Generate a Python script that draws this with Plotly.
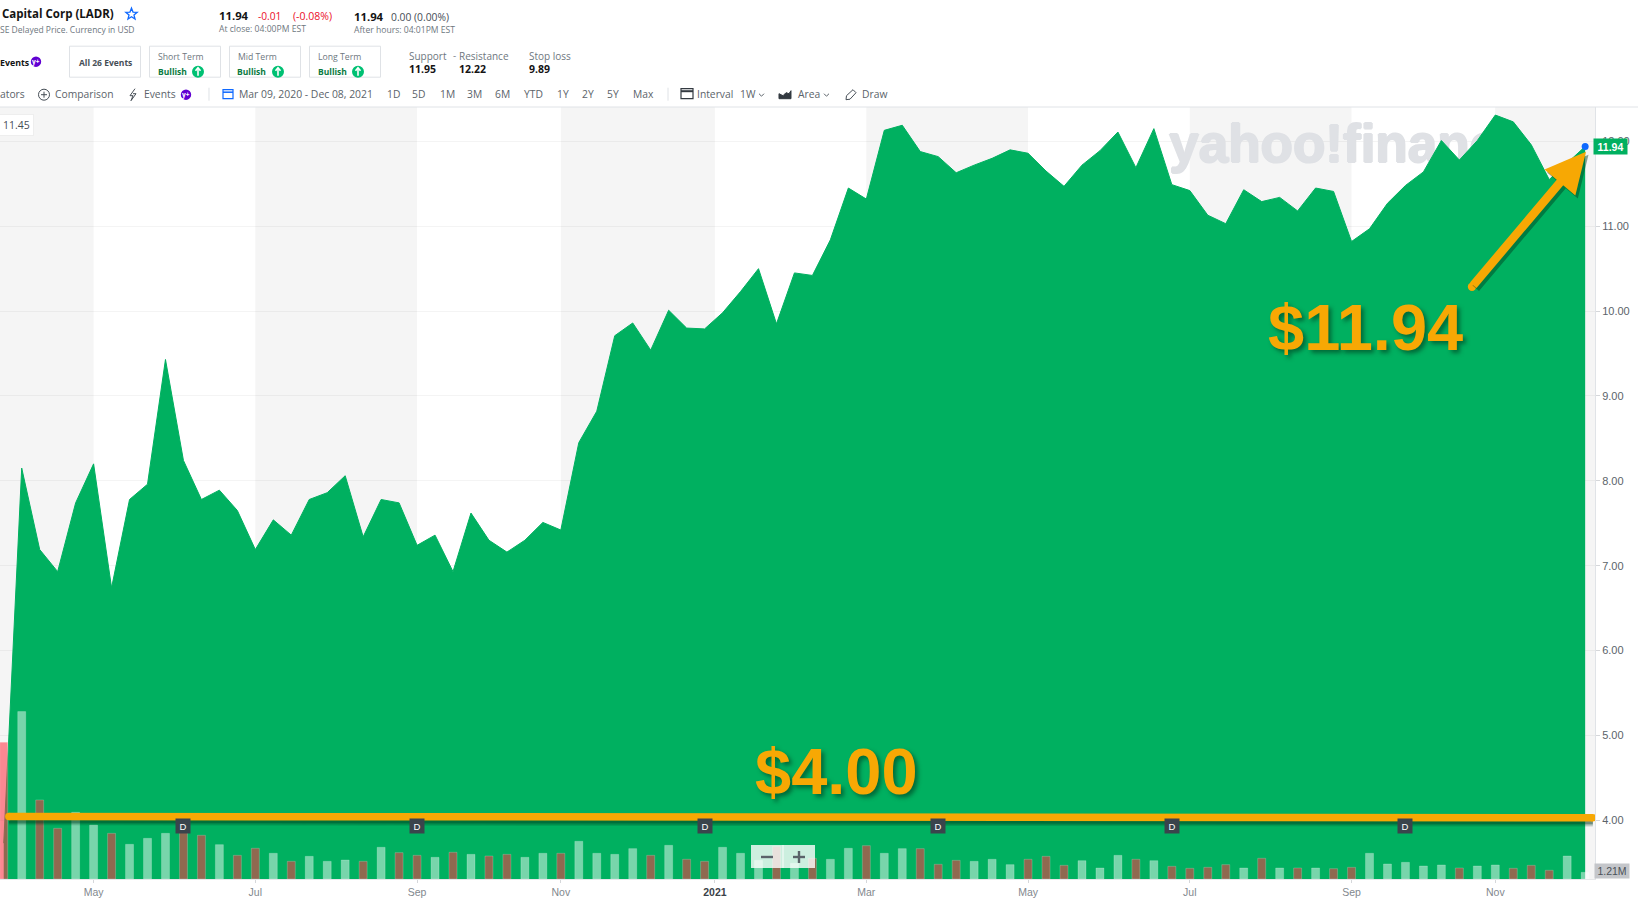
import math
import pandas as pd
import plotly.graph_objects as go

# ---------- data ----------
weeks = pd.date_range("2020-03-30", periods=89, freq="7D")
price = [3.73, 8.15, 7.19, 6.93, 7.74, 8.20, 6.74, 7.78, 7.96, 9.43,
         8.24, 7.78, 7.89, 7.65, 7.19, 7.54, 7.36, 7.78, 7.86, 8.06,
         7.34, 7.78, 7.74, 7.24, 7.36, 6.93, 7.62, 7.30, 7.16, 7.30,
         7.51, 7.42, 8.45, 8.82, 9.71, 9.86, 9.54, 10.01, 9.80, 9.79,
         9.98, 10.23, 10.50, 9.85, 10.45, 10.42, 10.84, 11.45, 11.32, 12.13,
         12.19, 11.88, 11.82, 11.63, 11.72, 11.80, 11.90, 11.86, 11.65, 11.47,
         11.72, 11.89, 12.11, 11.69, 12.15, 11.49, 11.42, 11.13, 11.03, 11.43,
         11.29, 11.34, 11.18, 11.45, 11.41, 10.82, 10.97, 11.27, 11.48, 11.64,
         12.01, 11.78, 12.01, 12.31, 12.23, 11.96, 11.55, 11.74, 11.94]
volume_m = [24.85, 30.42, 14.36, 9.21, 12.12, 9.82, 8.30, 6.30, 7.39, 8.30,
            8.91, 7.94, 6.24, 4.30, 5.58, 4.67, 3.21, 4.12, 3.21, 3.45,
            3.21, 5.76, 4.79, 4.30, 3.94, 4.85, 4.48, 4.18, 4.48, 3.94,
            4.67, 4.67, 6.85, 4.67, 4.48, 5.52, 4.30, 6.12, 3.58, 3.21,
            5.76, 4.67, 3.39, 5.94, 2.85, 3.76, 3.58, 5.58, 6.06, 4.67,
            5.52, 5.52, 2.67, 3.39, 3.21, 3.58, 2.61, 3.58, 4.12, 2.48,
            3.33, 2.00, 4.30, 3.58, 3.33, 2.30, 1.94, 2.12, 2.61, 2.00,
            3.76, 2.00, 2.00, 2.00, 1.88, 2.12, 4.67, 2.73, 3.03, 2.36,
            2.55, 2.00, 2.36, 2.55, 1.94, 2.48, 1.58, 4.18, 1.21]
volume_dir = [
    "d","u","d","d","u","u","d","u","u","u","d","d","u","d","d","u","d","u","u","u",
    "d","u","d","d","u","d","u","d","d","u","u","d","u","u","u","u","d","u","d","d",
    "u","u","u","d","u","d","u","u","d","u","u","d","d","d","u","u","u","d","d","d",
    "u","u","u","d","u","d","d","d","d","u","d","u","d","u","d","d","u","u","u","u",
    "u","d","u","u","d","d","d","u","u"]
tick_dates = ["2020-05-04", "2020-07-06", "2020-09-07", "2020-11-02", "2021-01-01",
              "2021-03-01", "2021-05-03", "2021-07-05", "2021-09-06", "2021-11-01"]
tick_labels = ["May", "Jul", "Sep", "Nov", '<span style="color:#3b4249"><b>2021</b></span>',
               "Mar", "May", "Jul", "Sep", "Nov"]
price_ticks = [4, 5, 6, 7, 8, 9, 10, 11, 12]
dividend_weeks = [10, 23, 39, 52, 65, 78]

# ---------- page geometry (px) ----------
W, H = 1638, 904
L, T, R, B = 0, 107.3, 1595, 879
X_RANGE = ["2020-03-28 13:00", "2021-12-09 20:00"]
Y_RANGE = [3.308, 12.405]
GREEN = "#00B060"
ORANGE = "#F7A804"
GREY = "#5b636a"

def px(x):
    return (x - L) / (R - L)

def py(y):
    return 1 - (y - T) / (B - T)

ann, shp = [], []

def text(s, x, y, size=10.3, color=GREY, bold=False, anchor="left", family="Open Sans", **kw):
    ann.append(dict(text=s, x=px(x), y=py(y), xref="paper", yref="paper", showarrow=False,
                    xanchor=anchor, yanchor="middle", borderpad=0,
                    font=dict(family=family, size=size, color=color,
                              weight=700 if bold else 400), **kw))

def rect(x0, y0, x1, y1, fill="rgba(0,0,0,0)", line="#dfe2e6", lw=1, layer="above"):
    shp.append(dict(type="rect", xref="paper", yref="paper", x0=px(x0), x1=px(x1),
                    y0=py(y0), y1=py(y1), fillcolor=fill,
                    line=dict(color=line, width=lw), layer=layer))

def circle(cx, cy, r, fill, line="rgba(0,0,0,0)", lw=0):
    shp.append(dict(type="circle", xref="paper", yref="paper", x0=px(cx - r), x1=px(cx + r),
                    y0=py(cy - r), y1=py(cy + r), fillcolor=fill,
                    line=dict(color=line, width=lw), layer="above"))

def path(points, color=GREY, lw=1, fill=None, close=False):
    d = "M " + " L ".join(f"{px(a):.5f},{py(b):.5f}" for a, b in points) + (" Z" if close else "")
    shp.append(dict(type="path", xref="paper", yref="paper", path=d, layer="above",
                    fillcolor=fill or "rgba(0,0,0,0)", line=dict(color=color, width=lw)))

def yplus(cx, cy):
    circle(cx, cy, 5.2, "#6001d2")
    text("y+", cx, cy, size=6.5, color="white", bold=True, anchor="center")

# ---------- header ----------
text("Capital Corp (LADR)", 1, 14, size=11.5, color="#141414", bold=True)
star = []
for k in range(10):
    r = 6 if k % 2 == 0 else 2.6
    ang = -math.pi / 2 + k * math.pi / 5
    star.append((131.5 + r * math.cos(ang), 14.5 + r * math.sin(ang)))
path(star, color="#0f69ff", lw=1.3, close=True)
text("SE Delayed Price. Currency in USD", -1, 30, size=8.5, color="#6e7780")
text("11.94", 218, 16, size=11.3, color="#141414", bold=True)
text("-0.01", 257, 16, size=10.2, color="#eb0f29")
text("(-0.08%)", 292, 16, size=10.5, color="#eb0f29")
text("At close: 04:00PM EST", 218, 29, size=8.6, color="#6e7780")
text("11.94", 353, 17, size=11.3, color="#141414", bold=True)
text("0.00 (0.00%)", 390, 17, size=10.3, color="#464e56")
text("After hours: 04:01PM EST", 353, 30, size=8.6, color="#6e7780")

text("Events", -1, 63, size=8.8, color="#141414", bold=True)
yplus(36, 62)
rect(69.5, 46.5, 140.5, 77.5)
text("All 26 Events", 105, 63, size=8.5, color="#464e56", bold=True, anchor="center")
for bx, label in [(149.5, "Short Term"), (229.5, "Mid Term"), (309.5, "Long Term")]:
    rect(bx, 46.5, bx + 71, 77.5)
    text(label, bx + 7.5, 57, size=8.7, color="#6e7780")
    text("Bullish", bx + 7, 72, size=8.5, color="#0a7a3f", bold=True)
    circle(bx + 48.5, 72, 6, "#00c073")
    path([(bx + 48.5, 76), (bx + 48.5, 68.5)], color="white", lw=1.6)
    path([(bx + 46, 71), (bx + 48.5, 68), (bx + 51, 71)], color="white", lw=1.6)

text("Support", 408, 56, size=10, color="#6e7780")
text("-", 451.5, 56, size=9.8, color="#6e7780")
text("Resistance", 458, 56, size=10, color="#6e7780")
text("Stop loss", 528, 56, size=10, color="#6e7780")
text("11.95", 408, 69, size=10.5, color="#141414", bold=True)
text("12.22", 458, 69, size=10.5, color="#141414", bold=True)
text("9.89", 528, 69, size=10.5, color="#141414", bold=True)

# ---------- toolbar ----------
TB = 94.3
text("ators", -1, TB)
circle(44, 95, 5.5, "white", line="#464e56", lw=1)
path([(41, 95), (47, 95)], color="#464e56")
path([(44, 92), (44, 98)], color="#464e56")
text("Comparison", 54, TB)
path([(135, 89), (130, 96), (133, 96), (131, 101), (136, 94), (133, 94)], color="#464e56", lw=1)
text("Events", 143, TB)
yplus(186, 95)
path([(209, 88), (209, 101)], color="#dfe2e6")
rect(223, 90, 233, 99, line="#0f69ff", lw=1.2)
path([(223, 92.5), (233, 92.5)], color="#0f69ff", lw=1.5)
text("Mar 09, 2020 - Dec 08, 2021", 238, TB, size=10.4)
for label, bx in [("1D", 385.5), ("5D", 411.5), ("1M", 438.5), ("3M", 466), ("6M", 494), ("YTD", 523),
                  ("1Y", 556), ("2Y", 581), ("5Y", 606), ("Max", 632)]:
    text(label, bx, TB)
path([(668, 88), (668, 101)], color="#dfe2e6")
rect(681, 89, 693, 99, line="#333a41", lw=1.2)
path([(681, 91.5), (693, 91.5)], color="#333a41", lw=2)
text("Interval", 695.5, TB)
text("1W", 738.5, TB)
path([(759, 94), (761.5, 96.5), (764, 94)], color=GREY)
path([(779, 99), (779, 94), (783, 96), (786, 93), (789, 94), (791, 91), (791, 99)],
     color="#333a41", fill="#333a41", close=True)
text("Area", 797, TB)
path([(824, 94), (826.5, 96.5), (829, 94)], color=GREY)
path([(846, 100), (846.5, 96), (853, 90), (856, 93), (850, 99.5)], color="#464e56", close=True)
text("Draw", 861, TB)
shp.append(dict(type="line", xref="paper", yref="paper", x0=0, x1=W / (R - L), y0=1, y1=1,
                line=dict(color="#e0e3e7", width=1), layer="above"))
ann.append(dict(text="11.45", x=px(-1), y=py(125.5), xref="paper", yref="paper", showarrow=False,
                xanchor="left", yanchor="middle", bgcolor="white", bordercolor="#eeeeee",
                borderwidth=1, borderpad=3,
                font=dict(family="Open Sans", size=10.5, color="#464e56")))

# ---------- alternating month bands ----------
edges = [X_RANGE[0]] + tick_dates + [X_RANGE[1]]
for a, b in zip(edges[0::2], edges[1::2]):
    shp.append(dict(type="rect", xref="x", yref="paper", x0=a, x1=b, y0=0, y1=1,
                    fillcolor="#f5f5f5", line=dict(width=0), layer="below"))
shp.append(dict(type="rect", xref="x", yref="paper", x0=tick_dates[-1], x1=X_RANGE[1],
                y0=0, y1=1, fillcolor="#f5f5f5", line=dict(width=0), layer="below"))

fig = go.Figure()
# watermark sits behind the area
fig.add_trace(go.Scatter(x=["2021-06-27"], y=[11.91], mode="text", text=["yahoo!finance"],
                         textposition="middle right", hoverinfo="skip", showlegend=False,
                         textfont=dict(family="Liberation Sans", size=53, color="#dfe1e5", weight=700,
                                       shadow="1px 0 0 #dfe1e5, -1px 0 0 #dfe1e5, 0 1px 0 #dfe1e5, 0 -1px 0 #dfe1e5")))
fig.add_trace(go.Scatter(x=weeks, y=price, mode="lines", fill="tozeroy", fillcolor=GREEN,
                         line=dict(color=GREEN, width=1), showlegend=False))
fig.add_trace(go.Scatter(x=[weeks[-1]], y=[11.94], mode="markers", showlegend=False,
                         marker=dict(color="#0f69ff", size=7)))
bar_colors = ["rgba(255,50,68,0.56)" if d == "d" else "rgba(255,255,255,0.47)" for d in volume_dir]
fig.add_trace(go.Bar(x=weeks, y=volume_m, yaxis="y2", width=269e6, marker=dict(
    color=bar_colors, line=dict(color="rgba(255,255,255,0.2)", width=1)), showlegend=False))
# $4.00 level line with its soft drop shadow
level_x = ["2020-04-01", "2021-12-09"]
for dy, lw, col in [(-0.06, 7.5, "rgba(0,60,30,0.18)"), (-0.045, 7.5, "rgba(0,60,30,0.22)"),
                    (-0.03, 7.5, "rgba(0,60,30,0.30)")]:
    fig.add_trace(go.Scatter(x=level_x, y=[4.045 + dy, 4.03 + dy], mode="lines", yaxis="y3",
                             line=dict(color=col, width=lw), showlegend=False))
fig.add_trace(go.Scatter(x=level_x, y=[4.045, 4.03], mode="lines+markers", yaxis="y3",
                         line=dict(color=ORANGE, width=7.5),
                         marker=dict(color=ORANGE, size=7.5), showlegend=False))

# ---------- dividend flags ----------
for i in dividend_weeks:
    ann.append(dict(text="D", x=weeks[i], y=py(826), xref="x", yref="paper", showarrow=False,
                    xanchor="center", yanchor="middle", bgcolor="#3a444c", borderpad=1.5,
                    width=11, font=dict(family="Liberation Sans", size=9.5, color="white")))

# ---------- zoom control ----------
shp.append(dict(type="rect", xref="paper", yref="paper", x0=px(751), x1=px(815), y0=py(845),
                y1=py(868), fillcolor="rgba(255,255,255,0.8)", line=dict(width=0), layer="above"))
path([(783, 845), (783, 868)], color="rgba(255,255,255,0.9)")
path([(761, 857), (773, 857)], color=GREY, lw=2.4)
path([(793, 857), (805, 857)], color=GREY, lw=2.4)
path([(799, 851), (799, 863)], color=GREY, lw=2.4)

# ---------- callouts ----------
tail = (1472, 287)
tip = (1586, 152)
for off, col in [((2.5, 3), "rgba(0,60,30,0.45)"), ((0, 0), ORANGE)]:
    ann.append(dict(text="", x=px(tip[0] + off[0]), y=py(tip[1] + off[1]), xref="paper", yref="paper",
                    ax=tail[0] - tip[0], ay=tail[1] - tip[1], axref="pixel", ayref="pixel",
                    showarrow=True, arrowhead=2, arrowsize=0.95, arrowwidth=8.5, arrowcolor=col,
                    standoff=0))
circle(tail[0], tail[1], 4.2, ORANGE)
shadow = "3px 3px 4px rgba(0,60,30,0.6)"
text("$4.00", 836, 772, size=65, color=ORANGE, bold=True, anchor="center",
     family="Liberation Sans")
ann[-1]["font"]["shadow"] = shadow
text("$11.94", 1365.5, 328, size=65, color=ORANGE, bold=True, anchor="center",
     family="Liberation Sans")
ann[-1]["font"]["shadow"] = shadow

# ---------- axis badges ----------
ann.append(dict(text="<b>11.94</b>", x=px(1611), y=py(146.5), xref="paper", yref="paper",
                showarrow=False, xanchor="center", yanchor="middle", bgcolor=GREEN, borderpad=1.5,
                width=30, font=dict(family="Liberation Sans", size=10.5, color="white")))
ann.append(dict(text="1.21M", x=px(1612), y=py(871.5), xref="paper", yref="paper",
                showarrow=False, xanchor="center", yanchor="middle", bgcolor="#c4c6ca", borderpad=1,
                width=32, font=dict(family="Liberation Sans", size=10.5, color="#4b5258")))

fig.update_layout(
    width=W, height=H, autosize=False, showlegend=False,
    margin=dict(l=L, r=W - R, t=T, b=H - B, pad=0),
    paper_bgcolor="white", plot_bgcolor="white", barmode="overlay",
    annotations=ann, shapes=shp, hovermode=False,
    xaxis=dict(type="date", range=X_RANGE, tickmode="array", tickvals=tick_dates, ticktext=tick_labels,
               showgrid=False, zeroline=False, showline=True, linecolor="#e6e8ea", ticks="outside",
               ticklen=3, tickcolor="#d5d7da", tickfont=dict(family="Liberation Sans", size=10.5, color="#82888e")),
    yaxis=dict(range=Y_RANGE, side="right", tickmode="array", tickvals=price_ticks,
               ticktext=[f"{v:.2f}" for v in price_ticks], showgrid=True, gridcolor="rgba(0,0,0,0.045)",
               zeroline=False, showline=True, linecolor="#e0e3e7", ticks="outside", ticklen=4,
               tickcolor="#d5d7da", tickfont=dict(family="Liberation Sans", size=11, color=GREY)),
    yaxis2=dict(overlaying="y", range=[0, 140.3], visible=False),
    yaxis3=dict(overlaying="y", range=Y_RANGE, visible=False),
)

fig.write_html("out.html", post_script="document.body.style.margin='0';",
               config=dict(displayModeBar=False))
